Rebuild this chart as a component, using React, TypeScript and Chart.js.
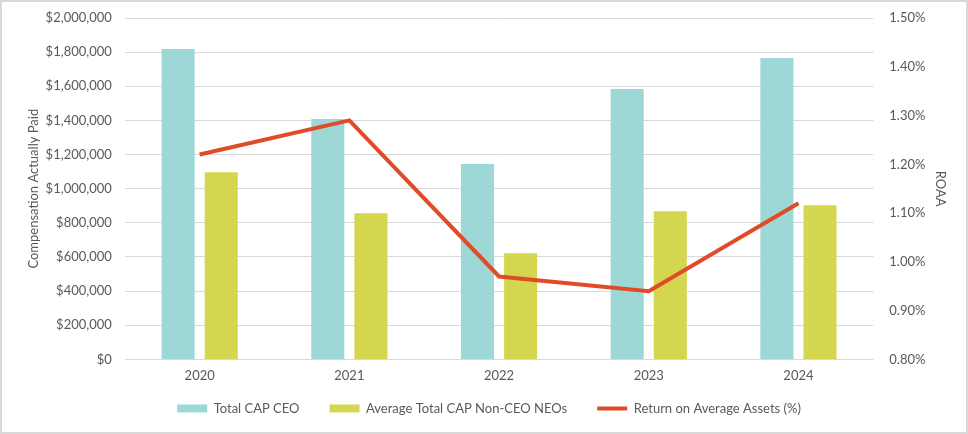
import React, { useEffect, useRef } from "react";
import { Chart, registerables } from "chart.js";

Chart.register(...registerables);

const years = ["2020", "2021", "2022", "2023", "2024"];
const capCeo = [1818000, 1408000, 1144000, 1584000, 1765000];
const capNonCeo = [1097000, 856000, 622000, 868000, 903000];
const roaa = [1.22, 1.29, 0.97, 0.94, 1.12];

const FONT = "Lato, 'Noto Sans', sans-serif";
const TEXT = "#595959";

const legendShift = {
  id: "legendShift",
  afterLayout(chart: any) {
    const lg = chart.legend;
    if (lg) {
      lg.top -= 21;
      lg.bottom -= 21;
    }
  },
};

export default function App() {
  const ref = useRef<HTMLCanvasElement>(null);
  useEffect(() => {
    document.body.style.margin = "0";
    const chart = new Chart(ref.current!, {
      type: "bar",
      data: {
        labels: years,
        datasets: [
          {
            type: "line",
            label: "Return on Average Assets (%)",
            data: roaa,
            yAxisID: "y1",
            borderColor: "#e04b29",
            backgroundColor: "#e04b29",
            borderWidth: 4,
            pointRadius: 0,
            pointStyle: "line",
            order: 0,
          } as any,
          {
            label: "Total CAP CEO",
            data: capCeo,
            backgroundColor: "#9dd8d7",
            yAxisID: "y",
            barPercentage: 0.767,
            categoryPercentage: 0.576,
            order: 1,
          },
          {
            label: "Average Total CAP Non-CEO NEOs",
            data: capNonCeo,
            backgroundColor: "#d5d650",
            yAxisID: "y",
            barPercentage: 0.767,
            categoryPercentage: 0.576,
            order: 2,
          },
        ],
      },
      plugins: [legendShift],
      options: {
        animation: false,
        responsive: true,
        maintainAspectRatio: false,
        layout: { padding: { top: 16, right: 14, bottom: -14, left: 24 } },
        plugins: {
          tooltip: { enabled: false },
          legend: {
            position: "bottom",
            labels: {
              font: { family: FONT, size: 13 },
              color: TEXT,
              usePointStyle: true,
              pointStyleWidth: 30,
              boxHeight: 8,
              padding: 30,
              sort: (a: any, b: any) => {
                const rank = (t: string) => (t.startsWith("Total") ? 0 : t.startsWith("Average") ? 1 : 2);
                return rank(a.text) - rank(b.text);
              },
              generateLabels: (c: any) => {
                const items = Chart.defaults.plugins.legend.labels.generateLabels(c);
                return items.map((it: any) => {
                  const isLine = it.text.startsWith("Return");
                  return {
                    ...it,
                    pointStyle: isLine ? "line" : "rect",
                    lineWidth: isLine ? 4 : 0,
                    strokeStyle: isLine ? "#e04b29" : it.fillStyle,
                  };
                });
              },
            },
          },
        },
        scales: {
          x: {
            grid: { display: false, drawTicks: false },
            border: { display: false },
            ticks: { font: { family: FONT, size: 13 }, color: TEXT, padding: 9 },
          },
          y: {
            position: "left",
            min: 0,
            max: 2000000,
            ticks: {
              stepSize: 200000,
              font: { family: FONT, size: 13 },
              color: TEXT,
              padding: 13,
              callback: (v: any) => "$" + Number(v).toLocaleString("en-US"),
            },
            grid: { color: "#d9d9d9", lineWidth: 1, drawTicks: false },
            border: { display: false },
            title: {
              display: true,
              text: "Compensation Actually Paid",
              font: { family: FONT, size: 13 },
              color: TEXT,
              padding: { top: 0, bottom: -9 },
            },
            afterFit: (s: any) => {
              s.paddingTop = 0;
              s.paddingBottom = 0;
            },
          },
          y1: {
            position: "right",
            min: 0.8,
            max: 1.5,
            ticks: {
              stepSize: 0.1,
              font: { family: FONT, size: 13 },
              color: TEXT,
              padding: 16,
              callback: (v: any) => Number(v).toFixed(2) + "%",
            },
            grid: { drawOnChartArea: false, drawTicks: false },
            border: { display: false },
            title: {
              display: true,
              text: "ROAA",
              font: { family: FONT, size: 13 },
              color: TEXT,
              padding: { top: 4, bottom: -9 },
            },
            afterFit: (s: any) => {
              s.paddingTop = 0;
              s.paddingBottom = 0;
            },
          },
        },
      },
    });
    return () => chart.destroy();
  }, []);
  return (
    <div
      style={{
        width: 968,
        height: 434,
        boxSizing: "border-box",
        border: "2px solid #d9d9d9",
        position: "relative",
        background: "#fff",
      }}
    >
      <canvas ref={ref} />
    </div>
  );
}
